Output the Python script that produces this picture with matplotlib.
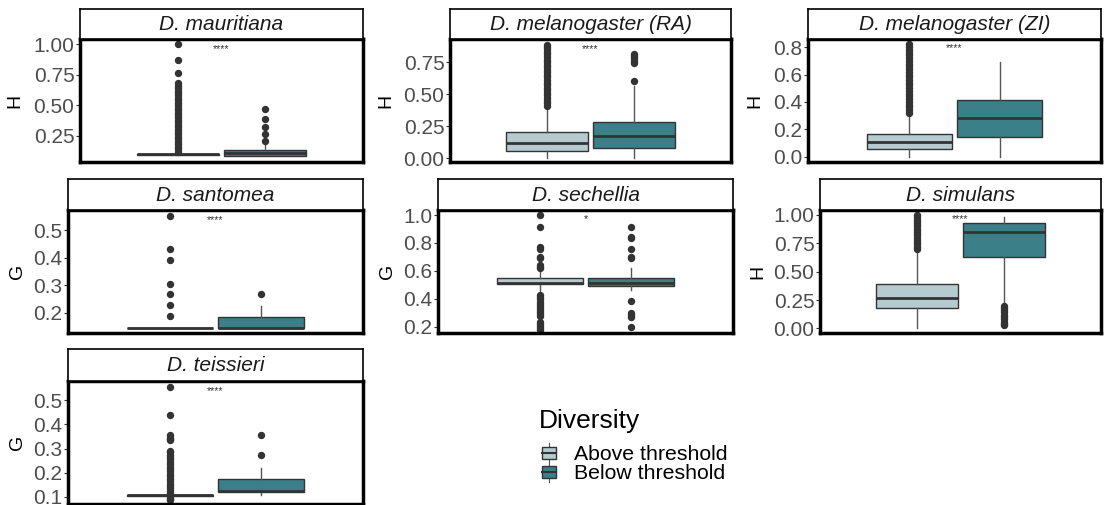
import matplotlib
matplotlib.use("Agg")
import matplotlib.pyplot as plt
from matplotlib.patches import Rectangle, Patch
from matplotlib.lines import Line2D
from matplotlib.legend_handler import HandlerBase
from matplotlib.ticker import FormatStrFormatter

plt.rcParams['font.family'] = ['Liberation Sans', 'DejaVu Sans']

# ---- data ----
species = ['D. mauritiana', 'D. melanogaster (RA)', 'D. melanogaster (ZI)',
           'D. santomea', 'D. sechellia', 'D. simulans', 'D. teissieri']
metric = ['H', 'H', 'H', 'G', 'G', 'H', 'G']
signif = ['****', '****', '****', '****', '*', '****', '****']
signif_y = [0.96, 0.85, 0.79, 0.536, 0.97, 0.96, 0.54]
groups = ['Above threshold', 'Below threshold']

# box stats per species, each (whislo, q1, med, q3, whishi)
above_stats = [
    (0.09, 0.094, 0.099, 0.103, 0.11),
    (0.0, 0.057, 0.115, 0.205, 0.40),
    (0.0, 0.056, 0.105, 0.166, 0.31),
    (0.143, 0.143, 0.143, 0.144, 0.144),
    (0.444, 0.504, 0.511, 0.551, 0.606),
    (0.0, 0.182, 0.265, 0.388, 0.69),
    (0.105, 0.105, 0.107, 0.109, 0.11),
]
below_stats = [
    (0.08, 0.085, 0.11, 0.13, 0.20),
    (0.0, 0.083, 0.17, 0.28, 0.565),
    (0.0, 0.146, 0.28, 0.415, 0.695),
    (0.143, 0.143, 0.144, 0.184, 0.225),
    (0.463, 0.494, 0.511, 0.551, 0.623),
    (0.206, 0.632, 0.847, 0.927, 0.985),
    (0.107, 0.12, 0.123, 0.173, 0.22),
]

above_fliers = [
    [0.12, 0.14, 0.16, 0.18, 0.20, 0.22, 0.24, 0.26, 0.28, 0.30, 0.32, 0.34,
     0.36, 0.38, 0.40, 0.42, 0.44, 0.46, 0.48, 0.50, 0.52, 0.54, 0.56, 0.58,
     0.60, 0.62, 0.64, 0.66, 0.68, 0.76, 0.87, 1.00],
    [0.41, 0.43, 0.45, 0.47, 0.49, 0.51, 0.53, 0.55, 0.57, 0.59, 0.61, 0.63,
     0.65, 0.67, 0.69, 0.71, 0.73, 0.75, 0.77, 0.79, 0.81, 0.83, 0.85, 0.87, 0.88],
    [0.32, 0.34, 0.36, 0.38, 0.40, 0.42, 0.44, 0.46, 0.48, 0.50, 0.52, 0.54,
     0.56, 0.58, 0.60, 0.62, 0.64, 0.66, 0.68, 0.70, 0.72, 0.74, 0.76, 0.78,
     0.80, 0.82],
    [0.186, 0.226, 0.266, 0.304, 0.39, 0.43, 0.552],
    [0.62, 0.63, 0.64, 0.69, 0.70, 0.756, 0.77, 0.912, 1.0,
     0.425, 0.41, 0.395, 0.38, 0.365, 0.35, 0.335, 0.32, 0.305, 0.29, 0.275,
     0.236, 0.22, 0.205, 0.19, 0.176],
    [0.70, 0.72, 0.74, 0.76, 0.78, 0.80, 0.82, 0.84, 0.86, 0.88, 0.90, 0.92,
     0.94, 0.96, 0.98, 1.00],
    [0.086, 0.09, 0.095, 0.115, 0.125, 0.135, 0.145, 0.155, 0.165, 0.175,
     0.185, 0.195, 0.205, 0.215, 0.225, 0.235, 0.245, 0.255, 0.265, 0.275,
     0.285, 0.29, 0.335, 0.34, 0.345, 0.355, 0.44, 0.555],
]
below_fliers = [
    [0.21, 0.26, 0.32, 0.39, 0.47],
    [0.60, 0.74, 0.76, 0.78, 0.80, 0.815],
    [],
    [0.266],
    [0.69, 0.70, 0.76, 0.833, 0.84, 0.912, 0.384, 0.296, 0.285, 0.272, 0.196],
    [0.20, 0.18, 0.16, 0.14, 0.12, 0.10, 0.08, 0.06, 0.04, 0.03],
    [0.272, 0.355],
]

ylims = [(0.034, 1.043), (-0.03, 0.93), (-0.04, 0.86), (0.126, 0.573),
         (0.155, 1.036), (-0.041, 1.044), (0.07, 0.58)]
yticks = [[0.25, 0.5, 0.75, 1.0], [0.0, 0.25, 0.5, 0.75], [0.0, 0.2, 0.4, 0.6, 0.8],
          [0.2, 0.3, 0.4, 0.5], [0.2, 0.4, 0.6, 0.8, 1.0],
          [0.0, 0.25, 0.5, 0.75, 1.0], [0.1, 0.2, 0.3, 0.4, 0.5]]
ytick_fmt = ['%.2f', '%.2f', '%.1f', '%.1f', '%.1f', '%.2f', '%.1f']

colors = ['#b5cbd0', '#3b7f89']

# ---- layout in pixels: left, right, top, bottom, strip top, ylabel x ----
W, H = 1104, 505
panels = [
    (80, 363, 39, 162, 9, 15),
    (450, 731, 39, 162, 9, 386),
    (808, 1101, 39, 162, 9, 755),
    (68, 363, 210, 333, 179, 18),
    (438, 733, 210, 333, 179, 388),
    (820, 1101, 210, 333, 179, 758),
    (68, 363, 381, 504, 349, 18),
]

fig = plt.figure(figsize=(W / 100, H / 100), dpi=100)


def stats_dict(s, fl):
    return dict(whislo=s[0], q1=s[1], med=s[2], q3=s[3], whishi=s[4], fliers=fl)


for i, (l, r, t, b, st, lx) in enumerate(panels):
    ax = fig.add_axes([l / W, 1 - b / H, (r - l) / W, (b - t) / H])
    for j, (s, fl) in enumerate([(above_stats[i], above_fliers[i]),
                                 (below_stats[i], below_fliers[i])]):
        ax.bxp([stats_dict(s, fl)], positions=[1 - 0.185 + j * 0.37], widths=0.35,
               patch_artist=True, showcaps=False,
               boxprops=dict(facecolor=colors[j], edgecolor='#333333', linewidth=1.0),
               medianprops=dict(color='#333333', linewidth=2.0),
               whiskerprops=dict(color='#555555', linewidth=1.0),
               flierprops=dict(marker='o', markerfacecolor='#333333',
                               markeredgecolor='#333333', markersize=4.3))
    ax.text(1, signif_y[i], signif[i], ha='center', va='center', fontsize=7.5,
            color='#333333')
    ax.set_xlim(0.4, 1.6)
    ax.set_ylim(*ylims[i])
    ax.set_yticks(yticks[i])
    ax.yaxis.set_major_formatter(FormatStrFormatter(ytick_fmt[i]))
    ax.set_xticks([])
    ax.tick_params(axis='y', labelsize=15, labelcolor='#4d4d4d', color='#333333',
                   length=3, width=0.8, pad=1)
    for sp in ax.spines.values():
        sp.set_linewidth(2.5)
        sp.set_color('black')
    ax.set_ylabel(metric[i], fontsize=14)
    ax.yaxis.set_label_coords(-(l - lx - 8) / (r - l), 0.5)

    # facet strip
    sax = fig.add_axes([l / W, 1 - t / H, (r - l) / W, (t - st) / H])
    sax.set_xticks([])
    sax.set_yticks([])
    for sp in sax.spines.values():
        sp.set_linewidth(1.2)
    sax.text(0.5, 0.48, species[i], ha='center', va='center', fontsize=15,
             style='italic', color='#1a1a1a', transform=sax.transAxes)


class BoxHandler(HandlerBase):
    def create_artists(self, legend, orig_handle, xdescent, ydescent, width,
                       height, fontsize, trans):
        cx = -xdescent + width / 2
        y0 = -ydescent
        bw = width * 0.9
        rect = Rectangle((cx - bw / 2, y0 + height * 0.1), bw, height * 0.8,
                         facecolor=orig_handle.get_facecolor(),
                         edgecolor='#333333', linewidth=1.0, transform=trans)
        med = Line2D([cx - bw / 2, cx + bw / 2], [y0 + height / 2] * 2,
                     color='#333333', linewidth=1.5, transform=trans)
        w1 = Line2D([cx, cx], [y0 - height * 0.12, y0 + height * 0.1],
                    color='#555555', linewidth=0.8, transform=trans)
        w2 = Line2D([cx, cx], [y0 + height * 0.9, y0 + height * 1.12],
                    color='#555555', linewidth=0.8, transform=trans)
        return [w1, w2, rect, med]


fig.text(539 / W, 1 - 428 / H, 'Diversity', fontsize=19, va='baseline',
         ha='left', color='black')
handles = [Patch(facecolor=c) for c in colors]
leg = fig.legend(handles, groups, loc='upper left',
                 bbox_to_anchor=(541 / W, 1 - 445 / H), frameon=False,
                 fontsize=15.3, borderpad=0, borderaxespad=0,
                 handler_map={Patch: BoxHandler()}, handlelength=0.73,
                 handleheight=0.75, handletextpad=0.82, labelspacing=0.0)

fig.savefig('out.png', dpi=100)
